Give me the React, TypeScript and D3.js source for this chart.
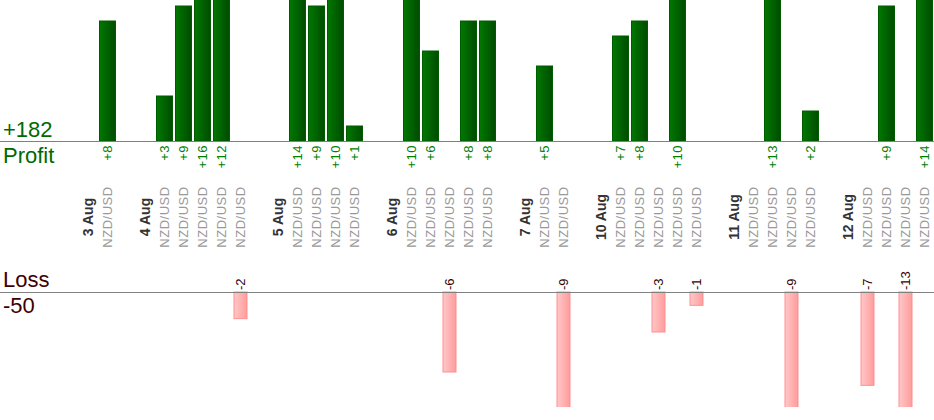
import React, { useEffect, useRef } from 'react';
import * as d3 from 'd3';

const pair = 'NZD/USD';
const dayLabels = ['3 Aug', '4 Aug', '5 Aug', '6 Aug', '7 Aug', '10 Aug', '11 Aug', '12 Aug'];
const dayResults: number[][] = [
    [8],
    [3, 9, 16, 12, -2],
    [14, 9, 10, 1],
    [10, 6, -6, 8, 8],
    [5, -9],
    [7, 8, -3, 10, -1],
    [0, 13, -9, 2],
    [-7, 9, -13, 14],
];
const leadingBlanks = 3;

interface Slot {
    key: string;
    kind: 'blank' | 'date' | 'trade';
    label?: string;
    value?: number;
}

const App: React.FC = () => {
    const ref = useRef<SVGSVGElement | null>(null);

    useEffect(() => {
        if (!ref.current) return;
        const svg = d3.select(ref.current);
        svg.selectAll('*').remove();

        const width = 934;
        const height = 407;

        // build the slot sequence: blanks, then gap + date + trades for each day
        const slots: Slot[] = [];
        for (let i = 0; i < leadingBlanks; i++) slots.push({ key: `b${i}`, kind: 'blank' });
        dayLabels.forEach((day, di) => {
            slots.push({ key: `g${di}`, kind: 'blank' });
            slots.push({ key: `d${di}`, kind: 'date', label: day });
            dayResults[di].forEach((v, ti) => {
                slots.push({ key: `t${di}_${ti}`, kind: 'trade', label: pair, value: v });
            });
        });

        const x = d3.scaleBand<string>()
            .domain(slots.map(s => s.key))
            .range([3, 3 + slots.length * 19]);
        const cx = (k: string) => (x(k) as number) + x.bandwidth() / 2;

        const profitBase = 141;
        const lossBase = 292;
        const yProfit = d3.scaleLinear().domain([0, 10]).range([profitBase, -9]);
        const yLoss = d3.scaleLinear().domain([0, -6]).range([lossBase, 372]);

        svg.attr('width', width).attr('height', height)
            .style('font-family', 'Arial, "Liberation Sans", sans-serif');

        const defs = svg.append('defs');
        const gp = defs.append('linearGradient').attr('id', 'gp');
        gp.append('stop').attr('offset', '0%').attr('stop-color', '#007800');
        gp.append('stop').attr('offset', '100%').attr('stop-color', '#004c00');
        const gl = defs.append('linearGradient').attr('id', 'gl');
        gl.append('stop').attr('offset', '0%').attr('stop-color', '#ffc8c8');
        gl.append('stop').attr('offset', '100%').attr('stop-color', '#ff9c9c');

        const trades = slots.filter(s => s.kind === 'trade');
        const profits = trades.filter(s => (s.value as number) > 0);
        const losses = trades.filter(s => (s.value as number) < 0);

        // profit bars
        svg.append('g').selectAll('rect')
            .data(profits)
            .enter().append('rect')
            .attr('x', d => cx(d.key) - 8)
            .attr('width', 16)
            .attr('y', d => yProfit(d.value as number))
            .attr('height', d => profitBase - yProfit(d.value as number))
            .attr('fill', 'url(#gp)')
            .attr('stroke', '#005c00')
            .attr('stroke-width', 1);

        // loss bars
        svg.append('g').selectAll('rect')
            .data(losses)
            .enter().append('rect')
            .attr('x', d => cx(d.key) - 6.5)
            .attr('width', 13)
            .attr('y', lossBase)
            .attr('height', d => yLoss(d.value as number) - lossBase)
            .attr('fill', 'url(#gl)')
            .attr('stroke', '#ff8f8f')
            .attr('stroke-width', 1);

        // baselines
        [profitBase, lossBase].forEach(y => {
            svg.append('line')
                .attr('x1', 0).attr('x2', width)
                .attr('y1', y + 0.5).attr('y2', y + 0.5)
                .attr('stroke', '#808080')
                .attr('stroke-width', 1.2);
        });

        // profit labels
        svg.append('g').selectAll('text')
            .data(profits)
            .enter().append('text')
            .attr('transform', d => `translate(${cx(d.key)},${profitBase + 4}) rotate(-90)`)
            .attr('dy', '0.35em')
            .attr('text-anchor', 'end')
            .style('font-size', '13px')
            .style('letter-spacing', '0.5px')
            .style('fill', '#008000')
            .text(d => `+${d.value}`);

        // loss labels
        svg.append('g').selectAll('text')
            .data(losses)
            .enter().append('text')
            .attr('transform', d => `translate(${cx(d.key)},${lossBase - 2}) rotate(-90)`)
            .attr('dy', '0.35em')
            .attr('text-anchor', 'start')
            .style('font-size', '13px')
            .style('fill', '#330000')
            .text(d => `${d.value}`);

        // category labels
        svg.append('g').selectAll('text')
            .data(slots.filter(s => s.kind !== 'blank'))
            .enter().append('text')
            .attr('transform', d => `translate(${cx(d.key)},217) rotate(-90)`)
            .attr('dy', '0.35em')
            .attr('text-anchor', 'middle')
            .style('font-size', d => d.kind === 'date' ? '14px' : '13px')
            .style('letter-spacing', d => d.kind === 'date' ? '0px' : '0.5px')
            .style('font-weight', d => d.kind === 'date' ? 'bold' : 'normal')
            .style('fill', d => d.kind === 'date' ? '#333333' : '#999999')
            .text(d => d.label as string);

        // totals
        const totalProfit = d3.sum(profits, d => d.value as number);
        const totalLoss = d3.sum(losses, d => d.value as number);
        const side = [
            { t: `+${totalProfit}`, y: 137, c: '#006a00' },
            { t: 'Profit', y: 163, c: '#006a00' },
            { t: 'Loss', y: 287, c: '#400000' },
            { t: `${totalLoss}`, y: 313, c: '#400000' },
        ];
        svg.append('g').selectAll('text')
            .data(side)
            .enter().append('text')
            .attr('x', 3)
            .attr('y', d => d.y)
            .style('font-size', '22px')
            .style('fill', d => d.c)
            .text(d => d.t);
    }, []);

    return (
        <div style={{ position: 'absolute', left: 0, top: 0, background: '#fff' }}>
            <svg ref={ref}></svg>
        </div>
    );
};

export default App;
